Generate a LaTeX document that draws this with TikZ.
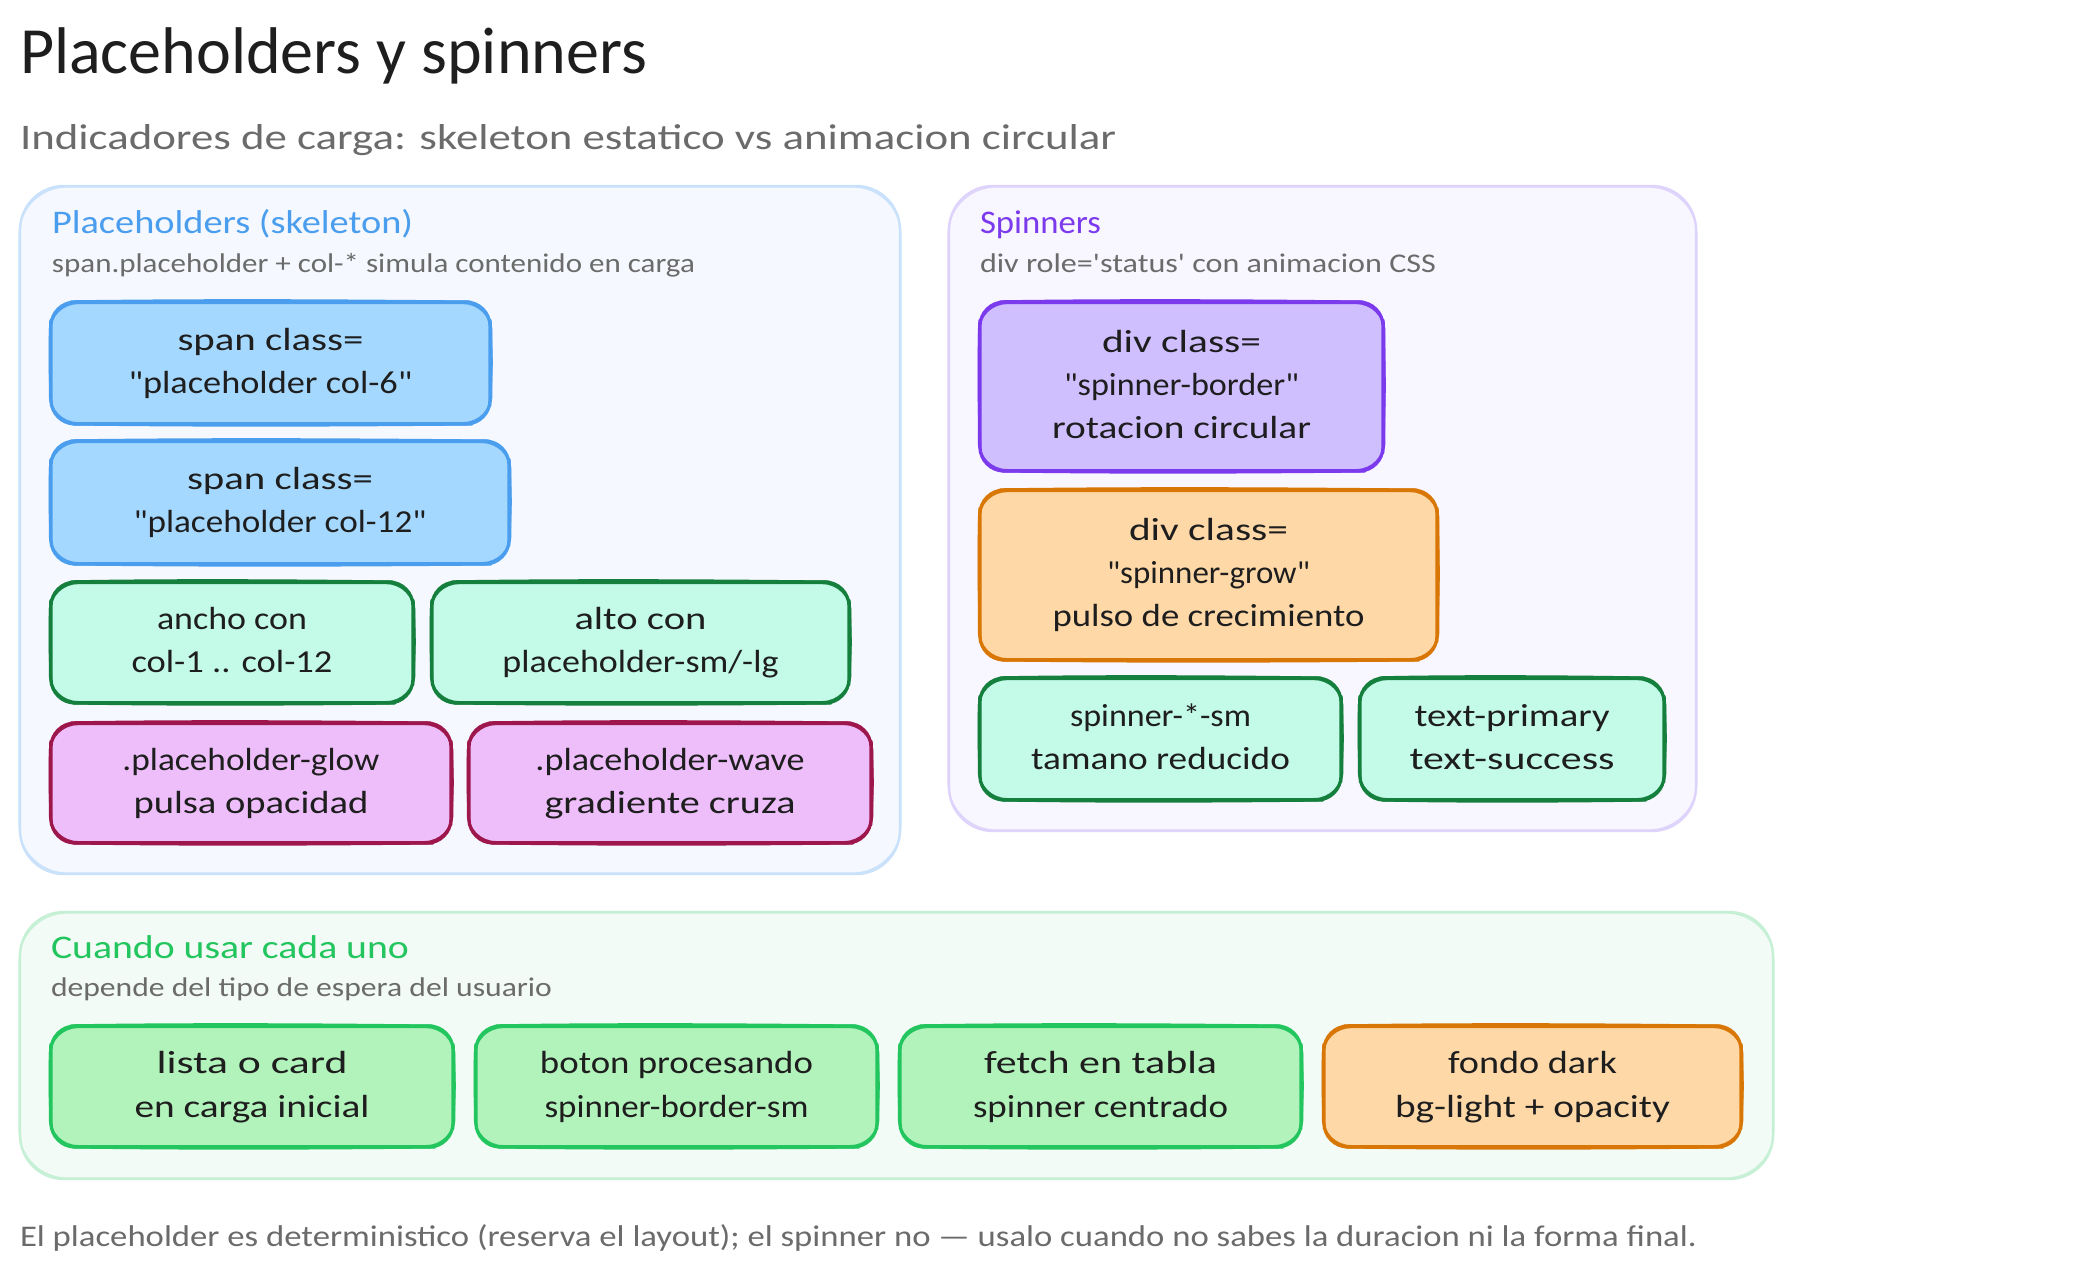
\documentclass[tikz,border=0pt]{standalone}
\usepackage{fontspec}
\usepackage{graphicx}
\setmainfont{Carlito}[Ligatures=TeXOff]
\definecolor{ink}{HTML}{1E1E1E}
\definecolor{gry}{HTML}{6B6B6B}
\definecolor{cblue}{HTML}{4A9EED}\definecolor{fblue}{HTML}{A5D8FF}
\definecolor{cteal}{HTML}{15803D}\definecolor{fteal}{HTML}{C3FAE8}
\definecolor{cpink}{HTML}{9D174D}\definecolor{fpink}{HTML}{EEBEFA}
\definecolor{cpurp}{HTML}{7C3AED}\definecolor{fpurp}{HTML}{D0BFFF}
\definecolor{corng}{HTML}{D97706}\definecolor{forng}{HTML}{FFD8A8}
\definecolor{cgrn}{HTML}{22C55E}\definecolor{fgrn}{HTML}{B2F2BB}
\definecolor{p1f}{HTML}{F5F8FF}\definecolor{p1s}{HTML}{C9E1FA}
\definecolor{p2f}{HTML}{F8F6FF}\definecolor{p2s}{HTML}{DDD3FB}
\definecolor{p3f}{HTML}{F2FBF5}\definecolor{p3s}{HTML}{C6F0D5}
\newcommand\fw[2]{\resizebox{#1pt}{\height}{#2}}
\newcommand\fl[2]{\rule[-13pt]{0pt}{43pt}\resizebox{#1pt}{\height}{#2}}
\tikzset{
  skbox/.style={rectangle,rounded corners=24pt,inner sep=0pt,outer sep=0pt,align=center,line width=3.2pt,text=ink,
    font=\fontsize{32}{43}\selectfont},
  skline/.style={line width=2pt,rounded corners=28pt},
  wob/.style={line width=2.6pt,line cap=round},
  panel/.style={rectangle,rounded corners=44pt,inner sep=0pt,outer sep=0pt,line width=2.4pt},
  panelline/.style={line width=1.2pt,rounded corners=48pt},
  ttl/.style={anchor=base west,inner sep=0pt,outer sep=0pt},
}
% name, x1, y1, x2, y2, fill, stroke, text
\newcommand\skb[8]{%
  \pgfmathsetmacro\mw{#4-#2}\pgfmathsetmacro\mh{#5-#3}%
  \node[skbox,fill=#6,draw=#7,minimum width=\mw pt,minimum height=\mh pt] (#1) at ({(#2+#4)/2},{(#3+#5)/2}) {#8};
  \draw[skline,#7] ([shift={(-1.2pt,-1.2pt)}]#1.north west) rectangle ([shift={(1.4pt,1pt)}]#1.south east);
  \draw[wob,#7] ([shift={(20pt,0.4pt)}]#1.north west) .. controls ([shift={(-60pt,2.2pt)}]#1.north) and ([shift={(60pt,1.6pt)}]#1.north) .. ([shift={(-20pt,0.2pt)}]#1.north east);
  \draw[wob,#7] ([shift={(22pt,-0.2pt)}]#1.south west) .. controls ([shift={(-50pt,-2pt)}]#1.south) and ([shift={(70pt,-1.4pt)}]#1.south) .. ([shift={(-18pt,-0.2pt)}]#1.south east);
  \draw[wob,#7] ([shift={(-0.4pt,-18pt)}]#1.north west) .. controls ([shift={(-1.8pt,10pt)}]#1.west) and ([shift={(-1.2pt,-10pt)}]#1.west) .. ([shift={(0.2pt,18pt)}]#1.south west);
  \draw[wob,#7] ([shift={(0.4pt,-18pt)}]#1.north east) .. controls ([shift={(1.8pt,-10pt)}]#1.east) and ([shift={(2pt,10pt)}]#1.east) .. ([shift={(0pt,18pt)}]#1.south east);
}
\newcommand\pnl[7]{%
  \pgfmathsetmacro\mw{#4-#2}\pgfmathsetmacro\mh{#5-#3}%
  \node[panel,fill=#6,draw=#7,minimum width=\mw pt,minimum height=\mh pt] (#1) at ({(#2+#4)/2},{(#3+#5)/2}) {};
  \draw[panelline,#7] ([shift={(-1pt,-1pt)}]#1.north west) rectangle ([shift={(1pt,1pt)}]#1.south east);
}
\begin{document}
\begin{tikzpicture}[x=1pt,y=-1pt]
\useasboundingbox[fill=white] (0,0) rectangle (2089,1275);
\node[ttl,text=ink,font=\fontsize{66}{72}\selectfont] (title) at (20,73) {\fw{627}{Placeholders y spinners}};
\node[ttl,text=gry,font=\fontsize{36}{40}\selectfont] (subtitle) at (20,149) {\fw{1096}{Indicadores de carga: skeleton estatico vs animacion circular}};

\pnl{p1}{20}{186}{900}{874}{p1f}{p1s}
\pnl{p2}{949}{186}{1696}{831}{p2f}{p2s}
\pnl{p3}{20}{912}{1773}{1179}{p3f}{p3s}

\node[ttl,text=cblue,font=\fontsize{33}{36}\selectfont] (h1) at (52,233) {\fw{361}{Placeholders (skeleton)}};
\node[ttl,text=gry,font=\fontsize{27}{30}\selectfont] (s1) at (52,272) {\fw{643}{span.placeholder + col-* simula contenido en carga}};
\node[ttl,text=cpurp,font=\fontsize{33}{36}\selectfont] (h2) at (980,233) {\fw{121}{Spinners}};
\node[ttl,text=gry,font=\fontsize{27}{30}\selectfont] (s2) at (980,272) {\fw{456}{div role='status' con animacion CSS}};
\node[ttl,text=cgrn,font=\fontsize{33}{36}\selectfont] (h3) at (51,958) {\fw{358}{Cuando usar cada uno}};
\node[ttl,text=gry,font=\fontsize{27}{30}\selectfont] (s3) at (51,996) {\fw{501}{depende del tipo de espera del usuario}};

\skb{a1}{51}{302}{490}{424}{fblue}{cblue}{\fl{186}{span class=}\\\fl{284}{"placeholder col-6"}}
\skb{a2}{51}{441}{509}{564}{fblue}{cblue}{\fl{186}{span class=}\\\fl{293}{"placeholder col-12"}}
\skb{a3}{51}{582}{413}{703}{fteal}{cteal}{\fl{150}{ancho con}\\\fl{201}{col-1 .. col-12}}
\skb{a4}{432}{582}{849}{703}{fteal}{cteal}{\fl{132}{alto con}\\\fl{276}{placeholder-sm/-lg}}
\skb{a5}{51}{723}{451}{843}{fpink}{cpink}{\fl{257}{.placeholder-glow}\\\fl{235}{pulsa opacidad}}
\skb{a6}{469}{723}{871}{843}{fpink}{cpink}{\fl{269}{.placeholder-wave}\\\fl{251}{gradiente cruza}}

\skb{b1}{980}{302}{1383}{471}{fpurp}{cpurp}{\fl{159}{div class=}\\\fl{235}{"spinner-border"}\\\fl{259}{rotacion circular}}
\skb{b2}{980}{490}{1437}{660}{forng}{corng}{\fl{159}{div class=}\\\fl{203}{"spinner-grow"}\\\fl{312}{pulso de crecimiento}}
\skb{b3}{980}{678}{1341}{800}{fteal}{cteal}{\fl{181}{spinner-*-sm}\\\fl{259}{tamano reducido}}
\skb{b4}{1360}{678}{1664}{800}{fteal}{cteal}{\fl{195}{text-primary}\\\fl{205}{text-success}}

\skb{c1}{51}{1026}{453}{1147}{fgrn}{cgrn}{\fl{191}{lista o card}\\[1pt]\fl{235}{en carga inicial}}
\skb{c2}{476}{1026}{877}{1147}{fgrn}{cgrn}{\fl{273}{boton procesando}\\[1pt]\fl{264}{spinner-border-sm}}
\skb{c3}{900}{1026}{1301}{1147}{fgrn}{cgrn}{\fl{233}{fetch en tabla}\\[1pt]\fl{255}{spinner centrado}}
\skb{c4}{1324}{1026}{1741}{1147}{forng}{corng}{\fl{169}{fondo dark}\\[1pt]\fl{275}{bg-light + opacity}}

\node[ttl,text=gry,font=\fontsize{30}{34}\selectfont] (foot) at (20,1246) {\fw{1677}{El placeholder es deterministico (reserva el layout); el spinner no — usalo cuando no sabes la duracion ni la forma final.}};
\end{tikzpicture}
\end{document}
